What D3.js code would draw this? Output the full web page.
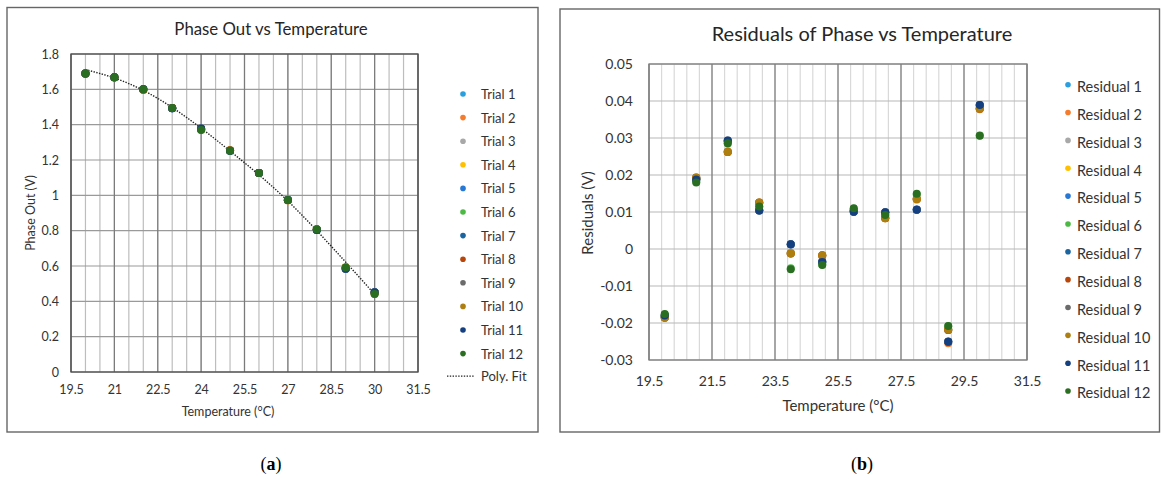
<!DOCTYPE html>
<html>
<head>
<meta charset="utf-8">
<script src="https://cdnjs.cloudflare.com/ajax/libs/d3/7.8.5/d3.min.js"></script>
<style>
  body { margin: 0; background: #fff; }
  svg { font-family: Lato, "Noto Sans", sans-serif; }
</style>
</head>
<body>
<svg id="chart" width="1161" height="483"></svg>
<script>
// temperatures (°C) where each trial was measured
const temps = [20, 21, 22, 23, 24, 25, 26, 27, 28, 29, 30];

// phase out (V), one array per trial
const phaseT1  = [1.689, 1.668, 1.599, 1.494, 1.374, 1.254, 1.126, 0.972, 0.807, 0.590, 0.449];
const phaseT2  = [1.689, 1.668, 1.598, 1.494, 1.374, 1.254, 1.126, 0.972, 0.807, 0.585, 0.449];
const phaseT3  = [1.689, 1.668, 1.599, 1.495, 1.374, 1.254, 1.126, 0.972, 0.807, 0.590, 0.449];
const phaseT4  = [1.689, 1.668, 1.598, 1.494, 1.374, 1.254, 1.126, 0.972, 0.807, 0.591, 0.449];
const phaseT5  = [1.690, 1.668, 1.601, 1.493, 1.377, 1.253, 1.126, 0.974, 0.804, 0.585, 0.451];
const phaseT6  = [1.690, 1.667, 1.600, 1.494, 1.371, 1.252, 1.127, 0.973, 0.808, 0.592, 0.442];
const phaseT7  = [1.690, 1.668, 1.601, 1.493, 1.377, 1.253, 1.126, 0.974, 0.804, 0.585, 0.451];
const phaseT8  = [1.689, 1.668, 1.598, 1.495, 1.374, 1.255, 1.126, 0.972, 0.807, 0.590, 0.449];
const phaseT9  = [1.690, 1.668, 1.601, 1.493, 1.377, 1.253, 1.126, 0.974, 0.804, 0.585, 0.451];
const phaseT10 = [1.689, 1.668, 1.598, 1.495, 1.374, 1.255, 1.126, 0.972, 0.807, 0.591, 0.449];
const phaseT11 = [1.690, 1.668, 1.601, 1.493, 1.378, 1.253, 1.126, 0.974, 0.804, 0.585, 0.452];
const phaseT12 = [1.690, 1.667, 1.600, 1.494, 1.370, 1.252, 1.127, 0.973, 0.808, 0.592, 0.442];

// polynomial fit drawn as dotted line
const polyFit = [1.712, 1.664, 1.594, 1.497, 1.380, 1.251, 1.116, 0.968, 0.800, 0.622, 0.440];

// residuals (V), one array per trial
const resT1  = [-0.0185, 0.0192, 0.0263, 0.0125, -0.0011, -0.0018, 0.0105, 0.0084, 0.0134, -0.0219, 0.0380];
const resT2  = [-0.0184, 0.0191, 0.0262, 0.0124, -0.0012, -0.0019, 0.0104, 0.0085, 0.0136, -0.0255, 0.0378];
const resT3  = [-0.0183, 0.0190, 0.0264, 0.0124, -0.0010, -0.0018, 0.0105, 0.0084, 0.0135, -0.0219, 0.0381];
const resT4  = [-0.0185, 0.0191, 0.0263, 0.0125, -0.0011, -0.0017, 0.0104, 0.0083, 0.0134, -0.0217, 0.0380];
const resT5  = [-0.0181, 0.0189, 0.0291, 0.0105, 0.0012, -0.0034, 0.0101, 0.0098, 0.0107, -0.0250, 0.0388];
const resT6  = [-0.0178, 0.0182, 0.0285, 0.0114, -0.0052, -0.0042, 0.0109, 0.0092, 0.0147, -0.0209, 0.0307];
const resT7  = [-0.0181, 0.0188, 0.0292, 0.0104, 0.0013, -0.0035, 0.0101, 0.0099, 0.0106, -0.0251, 0.0389];
const resT8  = [-0.0186, 0.0193, 0.0262, 0.0126, -0.0012, -0.0017, 0.0104, 0.0083, 0.0135, -0.0219, 0.0379];
const resT9  = [-0.0180, 0.0188, 0.0293, 0.0104, 0.0013, -0.0035, 0.0101, 0.0099, 0.0106, -0.0251, 0.0389];
const resT10 = [-0.0186, 0.0193, 0.0262, 0.0126, -0.0012, -0.0017, 0.0104, 0.0083, 0.0135, -0.0218, 0.0379];
const resT11 = [-0.0180, 0.0188, 0.0293, 0.0104, 0.0013, -0.0035, 0.0101, 0.0099, 0.0106, -0.0251, 0.0389];
const resT12 = [-0.0176, 0.0180, 0.0286, 0.0115, -0.0055, -0.0043, 0.0110, 0.0092, 0.0149, -0.0208, 0.0306];

const trialNames = ["Trial 1", "Trial 2", "Trial 3", "Trial 4", "Trial 5", "Trial 6",
                    "Trial 7", "Trial 8", "Trial 9", "Trial 10", "Trial 11", "Trial 12"];
const residualNames = ["Residual 1", "Residual 2", "Residual 3", "Residual 4", "Residual 5", "Residual 6",
                       "Residual 7", "Residual 8", "Residual 9", "Residual 10", "Residual 11", "Residual 12"];
const seriesColors = ["#2a9fdf", "#f57c2c", "#a8a8a8", "#ffc000", "#2777d4", "#4cb944",
                      "#1a64a0", "#b8460b", "#6b6b6b", "#ad7f10", "#143f80", "#2a6e22"];

// tick labels
const xTicksA = [19.5, 21, 22.5, 24, 25.5, 27, 28.5, 30, 31.5];
const xLabelsA = ["19.5", "21", "22.5", "24", "25.5", "27", "28.5", "30", "31.5"];
const yTicksA = [0, 0.2, 0.4, 0.6, 0.8, 1, 1.2, 1.4, 1.6, 1.8];
const yLabelsA = ["0", "0.2", "0.4", "0.6", "0.8", "1", "1.2", "1.4", "1.6", "1.8"];
const xTicksB = [19.5, 21.5, 23.5, 25.5, 27.5, 29.5, 31.5];
const xLabelsB = ["19.5", "21.5", "23.5", "25.5", "27.5", "29.5", "31.5"];
const yTicksB = [-0.03, -0.02, -0.01, 0, 0.01, 0.02, 0.03, 0.04, 0.05];
const yLabelsB = ["-0.03", "-0.02", "-0.01", "0", "0.01", "0.02", "0.03", "0.04", "0.05"];

const phaseSeries = [phaseT1, phaseT2, phaseT3, phaseT4, phaseT5, phaseT6,
                     phaseT7, phaseT8, phaseT9, phaseT10, phaseT11, phaseT12];
const residualSeries = [resT1, resT2, resT3, resT4, resT5, resT6,
                        resT7, resT8, resT9, resT10, resT11, resT12];

let svg = d3.select('#chart');

function drawPanel(cfg) {
  let g = svg.append('g');

  g.append('rect')
    .attr('x', cfg.frame[0]).attr('y', cfg.frame[1])
    .attr('width', cfg.frame[2]).attr('height', cfg.frame[3])
    .attr('fill', '#fff').attr('stroke', '#666').attr('stroke-width', 1.4);

  let x = d3.scaleLinear().domain([cfg.xTicks[0], cfg.xTicks[cfg.xTicks.length - 1]]).range([cfg.left, cfg.right]);
  let y = d3.scaleLinear().domain([cfg.yTicks[0], cfg.yTicks[cfg.yTicks.length - 1]]).range([cfg.bottom, cfg.top]);

  // minor vertical gridlines
  let minor = d3.range(x.domain()[0], x.domain()[1] + 1e-6, cfg.minorStep);
  g.append('g').selectAll('line').data(minor).join('line')
    .attr('x1', d => x(d)).attr('x2', d => x(d))
    .attr('y1', cfg.top).attr('y2', cfg.bottom)
    .attr('stroke', cfg.minorColor).attr('stroke-width', 1.2);

  // horizontal gridlines
  g.append('g').selectAll('line').data(cfg.yTicks).join('line')
    .attr('x1', cfg.left).attr('x2', cfg.right)
    .attr('y1', d => y(d)).attr('y2', d => y(d))
    .attr('stroke', cfg.hColor).attr('stroke-width', 1.2);

  // major vertical gridlines
  g.append('g').selectAll('line').data(cfg.xTicks).join('line')
    .attr('x1', d => x(d)).attr('x2', d => x(d))
    .attr('y1', cfg.top).attr('y2', cfg.bottom)
    .attr('stroke', cfg.majorColor).attr('stroke-width', 1.2);

  g.append('rect')
    .attr('x', cfg.left).attr('y', cfg.top)
    .attr('width', cfg.right - cfg.left).attr('height', cfg.bottom - cfg.top)
    .attr('fill', 'none').attr('stroke', cfg.plotBorder).attr('stroke-width', 1.3);

  let xAxis = d3.axisBottom(x).tickValues(cfg.xTicks).tickSize(0).tickPadding(cfg.xPad)
    .tickFormat((d, i) => cfg.xLabels[i]);
  let yAxis = d3.axisLeft(y).tickValues(cfg.yTicks).tickSize(0).tickPadding(cfg.yPad)
    .tickFormat((d, i) => cfg.yLabels[i]);

  g.append('g')
    .attr('transform', 'translate(0,' + cfg.bottom + ')')
    .call(xAxis)
    .call(a => a.select('.domain').remove())
    .selectAll('text').style('font-size', cfg.tickFont + 'px').style('font-family', 'Lato, sans-serif').attr('fill', '#333');

  g.append('g')
    .attr('transform', 'translate(' + cfg.left + ',0)')
    .call(yAxis)
    .call(a => a.select('.domain').remove())
    .selectAll('text').style('font-size', cfg.tickFont + 'px').style('font-family', 'Lato, sans-serif').attr('fill', '#333');

  g.append('text')
    .attr('x', cfg.titlePos[0]).attr('y', cfg.titlePos[1])
    .attr('text-anchor', 'middle').attr('dominant-baseline', 'central')
    .style('font-size', cfg.titleFont + 'px').attr('fill', '#262626')
    .text(cfg.title);

  g.append('text')
    .attr('x', cfg.xTitlePos[0]).attr('y', cfg.xTitlePos[1])
    .attr('text-anchor', 'middle').attr('dominant-baseline', 'central')
    .style('font-size', cfg.axisFont + 'px').attr('fill', '#333')
    .text('Temperature (°C)');

  g.append('text')
    .attr('transform', 'translate(' + cfg.yTitlePos[0] + ',' + cfg.yTitlePos[1] + ') rotate(-90)')
    .attr('text-anchor', 'middle').attr('dominant-baseline', 'central')
    .style('font-size', cfg.axisFont + 'px').attr('fill', '#333')
    .text(cfg.yTitle);

  if (cfg.fit) {
    let line = d3.line()
      .x((d, i) => x(temps[i]))
      .y(d => y(d))
      .curve(d3.curveNatural);
    g.append('path')
      .datum(cfg.fit)
      .attr('d', line)
      .attr('fill', 'none').attr('stroke', '#222').attr('stroke-width', 1.4)
      .attr('stroke-dasharray', '1.4,1.4');
  }

  cfg.series.forEach(function(vals, s) {
    g.append('g').selectAll('circle').data(vals).join('circle')
      .attr('cx', (d, i) => x(temps[i]))
      .attr('cy', d => y(d))
      .attr('r', cfg.dotR)
      .attr('fill', seriesColors[s]);
  });

  // legend
  let leg = g.append('g');
  cfg.names.forEach(function(name, i) {
    let ly = cfg.legTop + i * cfg.legStep;
    leg.append('circle')
      .attr('cx', cfg.legDotX).attr('cy', ly - cfg.legDotLift)
      .attr('r', cfg.legR).attr('fill', seriesColors[i]);
    leg.append('text')
      .attr('x', cfg.legTextX).attr('y', ly)
      .attr('dominant-baseline', 'central')
      .style('font-size', cfg.legFont + 'px').attr('fill', '#333')
      .text(name);
  });
  if (cfg.fit) {
    let ly = cfg.legTop + cfg.names.length * cfg.legStep - 1;
    leg.append('line')
      .attr('x1', cfg.legDotX - 16).attr('x2', cfg.legDotX + 12)
      .attr('y1', ly).attr('y2', ly)
      .attr('stroke', '#222').attr('stroke-width', 1.3).attr('stroke-dasharray', '1.4,1.4');
    leg.append('text')
      .attr('x', cfg.legTextX).attr('y', ly)
      .attr('dominant-baseline', 'central')
      .style('font-size', cfg.legFont + 'px').attr('fill', '#333')
      .text('Poly. Fit');
  }
}

drawPanel({
  frame: [7, 7.5, 531, 424.5],
  left: 71, right: 418, top: 54, bottom: 372,
  xTicks: xTicksA, xLabels: xLabelsA, yTicks: yTicksA, yLabels: yLabelsA,
  minorStep: 0.5, minorColor: '#bdbdbd', majorColor: '#7a7a7a', hColor: '#9a9a9a', plotBorder: '#4d4d4d',
  xPad: 13, yPad: 12, tickFont: 12.5,
  title: 'Phase Out vs Temperature', titlePos: [271, 28], titleFont: 16.8,
  xTitlePos: [228, 411], yTitle: 'Phase Out (V)', yTitlePos: [30, 213], axisFont: 12.5,
  series: phaseSeries, fit: polyFit, dotR: 4,
  names: trialNames, legTop: 94, legStep: 23.6, legDotX: 463, legTextX: 481, legR: 2.8, legDotLift: 0,
  legFont: 13
});

drawPanel({
  frame: [560, 9, 599.5, 423],
  left: 649, right: 1027, top: 64, bottom: 360,
  xTicks: xTicksB, xLabels: xLabelsB, yTicks: yTicksB, yLabels: yLabelsB,
  minorStep: 0.4, minorColor: '#d9d9d9', majorColor: '#7a7a7a', hColor: '#b8b8b8', plotBorder: '#7f7f7f',
  xPad: 16, yPad: 16, tickFont: 14,
  title: 'Residuals of Phase vs Temperature', titlePos: [862, 33], titleFont: 20,
  xTitlePos: [838, 405], yTitle: 'Residuals (V)', yTitlePos: [587, 213], axisFont: 15,
  series: residualSeries, fit: null, dotR: 4,
  names: residualNames, legTop: 86.5, legStep: 27.85, legDotX: 1068, legTextX: 1077, legR: 2.8, legDotLift: 1.8,
  legFont: 14.5
});

// panel captions
[['a', 271], ['b', 862]].forEach(function(c) {
  let t = svg.append('text')
    .attr('x', c[1]).attr('y', 464)
    .attr('text-anchor', 'middle').attr('dominant-baseline', 'central')
    .style('font-family', '"Liberation Serif", "DejaVu Serif", serif')
    .style('font-size', '18px').attr('fill', '#000');
  t.append('tspan').text('(');
  t.append('tspan').style('font-weight', 'bold').text(c[0]);
  t.append('tspan').text(')');
});
</script>
</body>
</html>
